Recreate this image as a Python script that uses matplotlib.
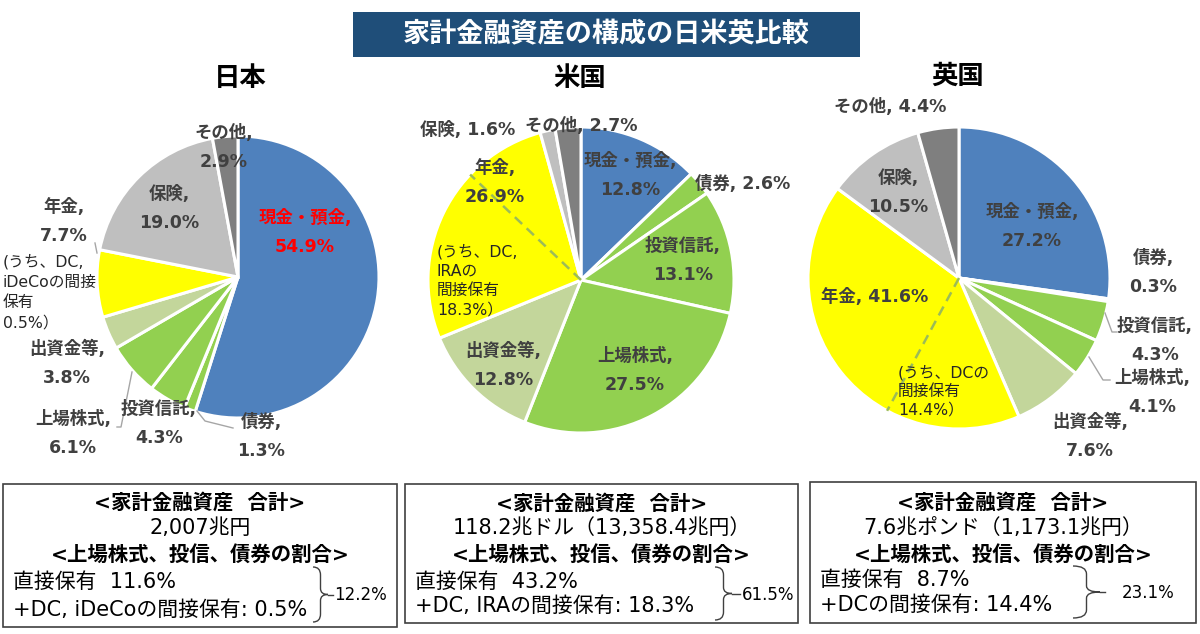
import matplotlib
matplotlib.use('Agg')
import matplotlib.pyplot as plt
from matplotlib.patches import Rectangle, PathPatch
from matplotlib.path import Path
import numpy as np

plt.rcParams['font.family'] = ['Noto Sans CJK JP', 'DejaVu Sans']

# ---------------- data ----------------
title = '家計金融資産の構成の日米英比較'
countries = ['日本', '米国', '英国']
categories = ['現金・預金', '債券', '投資信託', '上場株式', '出資金等', '年金', '保険', 'その他']
jp_values = [54.9, 1.3, 4.3, 6.1, 3.8, 7.7, 19.0, 2.9]
us_values = [12.8, 2.6, 13.1, 27.5, 12.8, 26.9, 1.6, 2.7]
uk_values = [27.2, 0.3, 4.3, 4.1, 7.6, 41.6, 10.5, 4.4]
dc_share = [0.5, 18.3, 14.4]
dc_prefix = ['(うち、DC,\niDeCoの間接\n保有\n', '(うち、DC,\nIRAの\n間接保有\n', '(うち、DCの\n間接保有\n']
totals = ['2,007兆円', '118.2兆ドル（13,358.4兆円）', '7.6兆ポンド（1,173.1兆円）']
direct = [11.6, 43.2, 8.7]
indirect_names = ['+DC, iDeCoの間接保有', '+DC, IRAの間接保有', '+DCの間接保有']
combined = [12.2, 61.5, 23.1]

# ---------------- style ----------------
colors = ['#4F81BD', '#92D050', '#92D050', '#92D050', '#C3D69B', '#FFFF00', '#BFBFBF', '#7F7F7F']
label_color = '#404040'
W, H = 1200, 634
MIX = ['DejaVu Sans', 'Noto Sans CJK JP']

fig = plt.figure(figsize=(12, 6.34), dpi=100)
ax = fig.add_axes([0, 0, 1, 1])

def Y(y):
    return H - y

def txt(x, y, s, size=12.5, weight='bold', color=label_color, ha='center', va='center', family=None, **kw):
    ax.text(x, Y(y), s, fontsize=size, fontweight=weight, color=color, ha=ha, va=va,
            family=family if family else MIX, **kw)

# title box
ax.add_patch(Rectangle((353, Y(57)), 507, 45, facecolor='#1F4E79', edgecolor='none'))
ax.text(606, Y(34), title, fontsize=19.5, fontweight='bold', color='white', ha='center', va='center')

# pie geometry
pies = [
    dict(vals=jp_values, c=(238, 277), r=141),
    dict(vals=us_values, c=(581, 280), r=153),
    dict(vals=uk_values, c=(959, 278), r=151),
]
title_pos = [(240, 78), (580, 78), (958, 76)]

for i, p in enumerate(pies):
    cx, cy = p['c']
    ax.pie(p['vals'], colors=colors, startangle=90, counterclock=False,
           center=(cx, Y(cy)), radius=p['r'],
           wedgeprops=dict(edgecolor='white', linewidth=2.2))
    ax.text(title_pos[i][0], Y(title_pos[i][1]), countries[i], fontsize=19,
            fontweight='bold', color='black', ha='center', va='center')

# dashed lines for DC share inside pension (US, UK)
for i in (1, 2):
    vals = pies[i]['vals']
    cx, cy = pies[i]['c']
    r = pies[i]['r']
    frac = (sum(vals[:5]) + dc_share[i]) / sum(vals)
    ang = np.deg2rad(90 - 360 * frac)
    ax.plot([cx, cx + r * np.cos(ang)], [Y(cy), Y(cy) + r * np.sin(ang)],
            color='#9BBB59', lw=1.8, ls=(0, (4, 2.5)), zorder=3)

# label layout: (x, y, lines)  lines=2 -> two line label, 1 -> single line
layouts = [
    {'現金・預金': (305, 218, 2), '債券': (261, 422, 2), '投資信託': (159, 409, 2),
     '上場株式': (73, 419, 2), '出資金等': (67, 349, 2), '年金': (64, 207, 2),
     '保険': (169, 194, 2), 'その他': (224, 133, 2)},
    {'現金・預金': (630, 161, 2), '債券': (743, 184, 1), '投資信託': (683, 246, 2),
     '上場株式': (635, 356, 2), '出資金等': (503, 351, 2), '年金': (495, 168, 2),
     '保険': (468, 130, 1), 'その他': (581, 126, 1)},
    {'現金・預金': (1032, 212, 2), '債券': (1153, 258, 2), '投資信託': (1155, 326, 2),
     '上場株式': (1152, 378, 2), '出資金等': (1090, 422, 2), '年金': (875, 297, 1),
     '保険': (898, 178, 2), 'その他': (890, 107, 1)},
]
line_gap = 29

for i, p in enumerate(pies):
    for cat, v in zip(categories, p['vals']):
        x, y, n = layouts[i][cat]
        col = '#FF0000' if (i == 0 and cat == '現金・預金') else label_color
        if n == 2:
            txt(x, y, f'{cat},', color=col)
            txt(x, y + line_gap, f'{v}%', color=col)
        else:
            txt(x, y, f'{cat}, {v}%', color=col)

# DC notes
note_pos = [(3, 262, 20.3), (437, 252, 19.3), (898, 373, 18.5)]
for i in range(3):
    x, y, gap = note_pos[i]
    lines = (dc_prefix[i] + f'{dc_share[i]}%）').split('\n')
    for k, ln in enumerate(lines):
        ax.text(x, Y(y + k * gap), ln, fontsize=11.3, color='#262626', ha='left', va='center',
                family=MIX)

# leader lines
leaders = [
    [(95, 243), (97, 253)],
    [(117, 427), (121, 427), (132, 372)],
    [(197, 411), (205, 421), (233, 428)],
    [(1105, 313), (1112, 332), (1117, 332)],
    [(1089, 357), (1103, 380), (1110, 380)],
]
for pts in leaders:
    xs = [a for a, b in pts]
    ys = [Y(b) for a, b in pts]
    ax.plot(xs, ys, color='#A6A6A6', lw=1)

# bottom boxes
boxes = [(3, 484, 394, 143), (405, 484, 393, 139), (810, 482, 386, 141)]
text_rows = [(503, 528, 555, 582, 610), (504, 528, 555, 582, 606), (503, 528, 555, 580, 605)]
brace = [(313, 328, 567, 622, 333), (715, 732, 567, 620, 740), (1073, 1100, 566, 618, 1105)]
comb_x = [361, 768, 1148]
for i, (bx, by, bw, bh) in enumerate(boxes):
    ax.add_patch(Rectangle((bx, Y(by + bh)), bw, bh, facecolor='white',
                           edgecolor='#404040', lw=1.2))
    cx = bx + bw / 2
    r1, r2, r3, r4, r5 = text_rows[i]
    ax.text(cx, Y(r1), '<家計金融資産  合計>', fontsize=14.7, fontweight='bold',
            color='black', ha='center', va='center', family=MIX)
    ax.text(cx, Y(r2), totals[i], fontsize=15, color='black', ha='center', va='center', family=MIX)
    ax.text(cx, Y(r3), '<上場株式、投信、債券の割合>', fontsize=14.7, fontweight='bold',
            color='black', ha='center', va='center', family=MIX)
    ax.text(bx + 10, Y(r4), f'直接保有  {direct[i]}%', fontsize=15, color='black',
            ha='left', va='center', family=MIX)
    ax.text(bx + 10, Y(r5), f'{indirect_names[i]}: {dc_share[i]}%', fontsize=15,
            color='black', ha='left', va='center', family=MIX)
    # brace
    x0, x1, top, bot, xs = brace[i]
    mid = (top + bot) / 2
    xm = (x0 + x1) / 2
    verts = [(x0, Y(top)), (xm, Y(top)), (xm, Y(top + 8)),
             (xm, Y(mid - 6)),
             (xm, Y(mid)), (x1, Y(mid)),
             (xm, Y(mid)), (xm, Y(mid + 6)),
             (xm, Y(bot - 8)),
             (xm, Y(bot)), (x0, Y(bot))]
    codes = [Path.MOVETO, Path.CURVE3, Path.CURVE3, Path.LINETO,
             Path.CURVE3, Path.CURVE3, Path.CURVE3, Path.CURVE3,
             Path.LINETO, Path.CURVE3, Path.CURVE3]
    ax.add_patch(PathPatch(Path(verts, codes), facecolor='none', edgecolor='#404040', lw=1))
    ax.plot([x1, xs], [Y(mid), Y(mid)], color='#404040', lw=1)
    ax.text(comb_x[i], Y(mid + 1), f'{combined[i]}%', fontsize=12, color='black',
            ha='center', va='center', family=MIX)

ax.set_xlim(0, W)
ax.set_ylim(0, H)
ax.set_aspect('equal')
ax.axis('off')
fig.savefig('out.png', dpi=100)
